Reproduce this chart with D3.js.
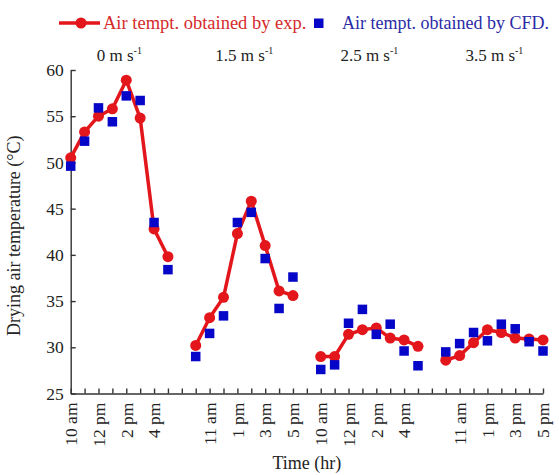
<!DOCTYPE html>
<html>
<head>
<meta charset="utf-8">
<script src="https://cdn.jsdelivr.net/npm/d3@7"></script>
<style>
  html, body { margin: 0; padding: 0; background: #fff; }
  svg { display: block; font-family: "Liberation Serif", "Times New Roman", serif; }
</style>
</head>
<body>
<svg id="chart" width="559" height="475"></svg>
<script>
// Air speed of each test run (m/s)
const speeds = ["0", "1.5", "2.5", "3.5"];
// Sampling hours within one run
const hours = ["10 am", "11 am", "12 pm", "1 pm", "2 pm", "3 pm", "4 pm", "5 pm"];
// First time slot of each run on the shared time axis
const runStart = [0, 9, 18, 27];
// Labelled hours per run
const runTickLabels = [
  ["10 am", "12 pm", "2 pm", "4 pm"],
  ["11 am", "1 pm", "3 pm", "5 pm"],
  ["10 am", "12 pm", "2 pm", "4 pm"],
  ["11 am", "1 pm", "3 pm", "5 pm"]
];
// Measured drying air temperature (°C)
const expTemp = [
  [50.5, 53.3, 55.0, 55.8, 58.9, 54.8, 42.8, 39.8],
  [30.2, 33.2, 35.4, 42.3, 45.8, 41.0, 36.1, 35.6],
  [29.0, 29.0, 31.4, 31.9, 32.1, 31.0, 30.8, 30.1],
  [28.6, 29.1, 30.5, 31.9, 31.6, 31.0, 30.9, 30.8]
];
// CFD-predicted drying air temperature (°C)
const cfdTemp = [
  [49.6, 52.3, 55.9, 54.4, 57.2, 56.7, 43.5, 38.4],
  [29.0, 31.5, 33.4, 43.5, 44.6, 39.6, 34.2, 37.6],
  [27.6, 28.1, 32.6, 34.1, 31.4, 32.5, 29.6, 28.0],
  [29.5, 30.4, 31.6, 30.7, 32.5, 32.0, 30.6, 29.6]
];
const yTicks = [25, 30, 35, 40, 45, 50, 55, 60];

const RED = "#e3161c";
const BLUE = "#0606c8";
const AXIS = "#333";
const INK = "#222";

const svg = d3.select("#chart");

const lastSlot = runStart[runStart.length - 1] + hours.length - 1;
const x = d3.scaleLinear().domain([0, lastSlot]).range([70.7, 543]);
const y = d3.scaleLinear().domain([25, 60]).range([393.5, 70]);

// Y axis, ticks pointing inward
const yAxis = svg.append("g")
  .attr("transform", `translate(${x(0)},0)`)
  .call(d3.axisLeft(y).tickValues(yTicks).tickSizeInner(-5).tickSizeOuter(0).tickPadding(7));
yAxis.select(".domain").attr("stroke", AXIS).attr("stroke-width", 1.4);
yAxis.selectAll(".tick line").attr("stroke", AXIS).attr("stroke-width", 1.4);
yAxis.selectAll(".tick text")
  .attr("font-family", "Liberation Serif, serif")
  .attr("font-size", 17.5).attr("fill", INK);

// X axis: a tick at every hourly slot, labels on alternate hours
const labelOf = new Map();
runTickLabels.forEach((labels, g) => {
  labels.forEach(l => labelOf.set(runStart[g] + hours.indexOf(l), l));
});
const xAxis = svg.append("g")
  .attr("transform", `translate(0,${y(25)})`)
  .call(d3.axisBottom(x).tickValues(d3.range(0, lastSlot + 1))
    .tickSizeInner(-5).tickSizeOuter(0).tickFormat(d => labelOf.get(d) || ""));
xAxis.select(".domain").attr("stroke", AXIS).attr("stroke-width", 1.4);
xAxis.selectAll(".tick line").attr("stroke", AXIS).attr("stroke-width", 1.4);
xAxis.selectAll(".tick text")
  .attr("font-family", "Liberation Serif, serif")
  .attr("font-size", 17.5).attr("fill", INK)
  .attr("transform", "rotate(-90)")
  .attr("text-anchor", "end")
  .attr("x", -9).attr("y", 0).attr("dy", "0.33em");

// Axis titles
svg.append("text")
  .attr("transform", `translate(20,${(y(25) + y(60)) / 2 + 4}) rotate(-90)`)
  .attr("text-anchor", "middle")
  .attr("font-size", 18).attr("fill", INK)
  .text("Drying air temperature (°C)");

svg.append("text")
  .attr("x", (x(0) + x(lastSlot)) / 2).attr("y", 469)
  .attr("text-anchor", "middle")
  .attr("font-size", 18).attr("fill", INK)
  .text("Time (hr)");

// Run titles (air speed)
speeds.forEach((s, g) => {
  const cx = (x(runStart[g]) + x(runStart[g] + hours.length - 1)) / 2;
  const t = svg.append("text")
    .attr("x", cx).attr("y", 61)
    .attr("text-anchor", "middle")
    .attr("font-size", 17).attr("fill", INK);
  t.append("tspan").text(`${s} m s`);
  t.append("tspan").attr("font-size", 10).attr("dy", -7).text("-1");
});

// Measured series: line + circles per run
const line = d3.line().x(d => x(d.slot)).y(d => y(d.v));
expTemp.forEach((vals, g) => {
  const pts = vals.map((v, i) => ({ slot: runStart[g] + i, v }));
  svg.append("path").datum(pts)
    .attr("d", line)
    .attr("fill", "none").attr("stroke", RED)
    .attr("stroke-width", 3.5).attr("stroke-linejoin", "round");
  svg.append("g").selectAll("circle").data(pts).join("circle")
    .attr("cx", d => x(d.slot)).attr("cy", d => y(d.v))
    .attr("r", 5.5).attr("fill", RED);
});

// CFD series: squares
const sq = 9.5;
cfdTemp.forEach((vals, g) => {
  const pts = vals.map((v, i) => ({ slot: runStart[g] + i, v }));
  svg.append("g").selectAll("rect").data(pts).join("rect")
    .attr("x", d => x(d.slot) - sq / 2).attr("y", d => y(d.v) - sq / 2)
    .attr("width", sq).attr("height", sq).attr("fill", BLUE);
});

// Legend
const lg = svg.append("g");
lg.append("line").attr("x1", 59).attr("x2", 100).attr("y1", 23).attr("y2", 23)
  .attr("stroke", RED).attr("stroke-width", 3.5);
lg.append("circle").attr("cx", 81).attr("cy", 23).attr("r", 5.5).attr("fill", RED);
lg.append("text").attr("x", 103).attr("y", 29)
  .attr("font-size", 18.5).attr("fill", "#d42a2a")
  .text("Air tempt. obtained by exp.");
lg.append("rect").attr("x", 314).attr("y", 18.5).attr("width", sq).attr("height", sq).attr("fill", BLUE);
lg.append("text").attr("x", 342).attr("y", 29)
  .attr("font-size", 18).attr("fill", "#2b2ba6")
  .text("Air tempt. obtained by CFD.");
</script>
</body>
</html>
